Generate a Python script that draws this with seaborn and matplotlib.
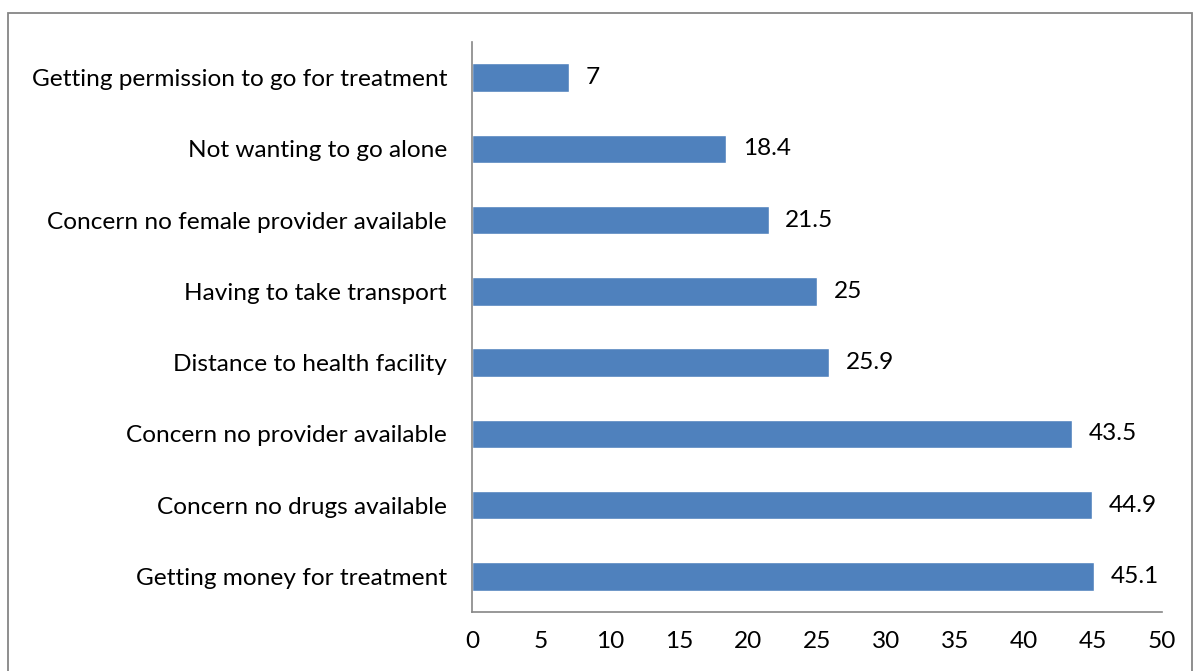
import matplotlib
matplotlib.use("Agg")
import matplotlib.pyplot as plt
import seaborn as sns
import pandas as pd
from matplotlib.patches import Rectangle
from matplotlib.ticker import FixedLocator

categories = [
    "Getting permission to go for treatment",
    "Not wanting to go alone",
    "Concern no female provider available",
    "Having to take transport",
    "Distance to health facility",
    "Concern no provider available",
    "Concern no drugs available",
    "Getting money for treatment",
]
values = [7, 18.4, 21.5, 25, 25.9, 43.5, 44.9, 45.1]
value_labels = ["7", "18.4", "21.5", "25", "25.9", "43.5", "44.9", "45.1"]
x_ticks = [0, 5, 10, 15, 20, 25, 30, 35, 40, 45, 50]

df = pd.DataFrame({"category": categories, "value": values})

sns.set_theme(style="white")
plt.rcParams["font.family"] = ["Lato", "DejaVu Sans"]
FS = 17.6

fig = plt.figure(figsize=(11.95, 6.71), dpi=100)
ax = fig.add_axes([472 / 1195, 1 - 612 / 671, (1162 - 472) / 1195, (612 - 42) / 671])

sns.barplot(data=df, y="category", x="value", order=categories, color="#4F81BD",
            saturation=1, width=0.4, ax=ax, orient="h")

ax.set_xlim(0, 50)
ax.set_ylim(7.5, -0.5)
ax.set_xlabel("")
ax.set_ylabel("")
ax.xaxis.set_major_locator(FixedLocator(x_ticks))
ax.set_xticklabels([str(t) for t in x_ticks], fontsize=FS, color="black")
ax.set_yticks(range(len(categories)))
ax.set_yticklabels(categories, fontsize=FS, color="black")
ax.tick_params(axis="y", which="major", length=0, pad=18)
ax.yaxis.set_minor_locator(FixedLocator([i - 0.5 for i in range(len(categories) + 1)]))
ax.tick_params(axis="y", which="minor", length=7, width=1.2, color="#868686", direction="out")
ax.tick_params(axis="x", which="major", length=6, width=1.2, color="#868686", direction="out", pad=8)

for s in ["top", "right"]:
    ax.spines[s].set_visible(False)
for s in ["left", "bottom"]:
    ax.spines[s].set_color("#868686")
    ax.spines[s].set_linewidth(1.2)

ax.bar_label(ax.containers[0], labels=value_labels, padding=12, fontsize=FS, color="black")

fig.patches.append(Rectangle((8 / 1195, -0.01), (1192 - 8) / 1195, 1 - 13 / 671 + 0.01,
                             transform=fig.transFigure, fill=False, edgecolor="#868686",
                             linewidth=1.3))

fig.savefig("out.png", dpi=100)
